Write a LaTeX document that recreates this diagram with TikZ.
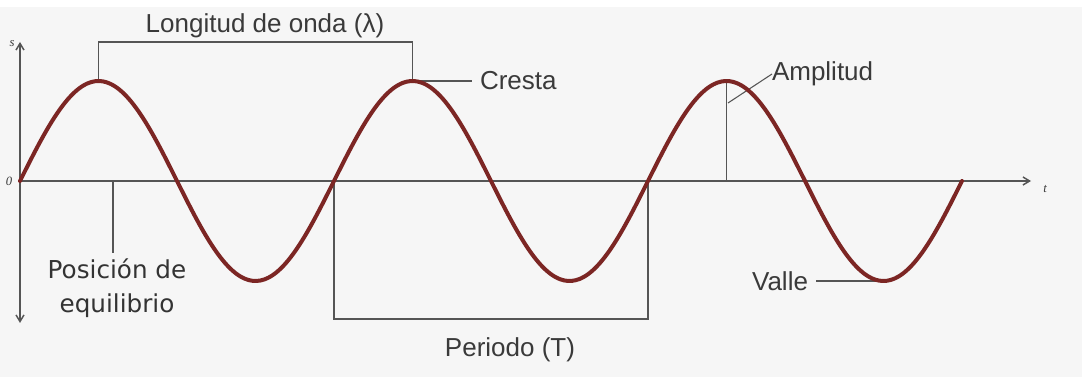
\documentclass[tikz,border=0pt]{standalone}
\usepackage{fontspec}
\setmainfont{Liberation Sans}
\newfontfamily\eqfont{DejaVu Sans}
\newfontfamily\axfont{Liberation Serif}
\usetikzlibrary{arrows.meta}
\definecolor{wavered}{RGB}{124,38,36}
\definecolor{linegray}{RGB}{85,85,85}
\definecolor{textgray}{RGB}{58,58,58}
\definecolor{bggray}{RGB}{246,246,246}
\tikzset{
  wave/.style={wavered,line width=3pt,line cap=round},
  bracket/.style={linegray,line width=1.3pt},
  axisline/.style={linegray,line width=1.1pt},
  tag/.style={text=textgray,font=\fontsize{19.5}{23}\selectfont,inner sep=0pt,outer sep=6pt},
  axtag/.style={text=textgray,font=\axfont\itshape\fontsize{9.5}{10}\selectfont,inner sep=0pt}
}

\begin{document}
\begin{tikzpicture}[x=0.75pt,y=0.75pt]
  % background, origin on the axes
  \fill[bggray] (-20,-196) rectangle (1062,181);
  \fill[white] (-20,174) rectangle (1062,181);
  \useasboundingbox (-20,-196) rectangle (1062,181);
  % axes
  \draw[axisline,{Straight Barb[length=5pt,width=6pt]}-{Straight Barb[length=5pt,width=6pt]}] (0,-142) -- (0,139);
  \draw[axisline,-{Straight Barb[length=5pt,width=6pt]}] (0,0) -- (1011,0);
  \node[axtag] (sname) at (-8,137) {s};
  \node[axtag] (oname) at (-11,0) {0};
  \node[axtag] (tname) at (1025,-8) {t};
  % points on the wave
  \coordinate (crestA) at (78.5,100);
  \coordinate (crestB) at (392.5,100);
  \coordinate (crestC) at (706.5,100);
  \coordinate (troughC) at (863.5,-100);
  \coordinate (zeroB) at (314,0);
  \coordinate (zeroD) at (628,0);
  \coordinate (ampfoot) at (706.5,0);
  \coordinate (eqpt) at (93,0);
  % labels
  \node[tag] (lambda) at (245,155) {Longitud de onda (λ)};
  \node[tag,anchor=west] (cresta) at (452,100) {Cresta};
  \node[tag,anchor=west,outer sep=0pt] (amplitud) at (752,107) {Amplitud};
  \node[tag,anchor=east] (valle) at (796,-100) {Valle};
  \node[tag,anchor=north] (periodo) at (490,-149) {Periodo (T)};
  \node[tag,anchor=north,align=center,text=black!80,font=\eqfont\fontsize{18.5}{26}\selectfont,outer sep=4pt] (equil) at (97,-72) {Posición de\\equilibrio};
  % brackets and pointers
  \draw[bracket] (crestA) -- ++(0,39) -| (crestB);
  \draw[bracket] (zeroB) -- ++(0,-138) -| (zeroD);
  \draw[bracket] (crestB) -- (cresta.west);
  \draw[bracket] (troughC) -- (valle.east);
  \draw[bracket] (eqpt) -- (equil.north -| eqpt);
  \draw[bracket,line width=1pt] (crestC) -- (ampfoot);
  \draw[bracket,line width=0.8pt] (708,78) -- (amplitud.west);
  % the wave
  \draw[wave] plot[domain=0:942,samples=240,smooth] (\x,{100*sin(\x/314*360)});
\end{tikzpicture}
\end{document}
